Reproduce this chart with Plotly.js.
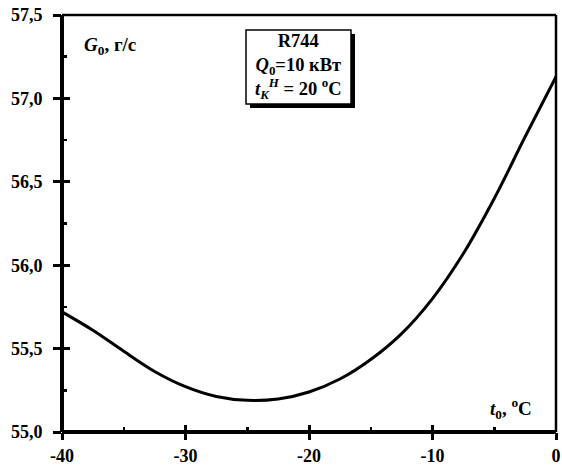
<!DOCTYPE html>
<html>
<head>
<meta charset="utf-8">
<script src="https://cdn.plot.ly/plotly-3.0.1.min.js"></script>
<style>html,body{margin:0;padding:0;background:#fff;}#chart{width:562px;height:468px;}</style>
</head>
<body>
<div id="chart"></div>
<script>
// Data
const t0 = [-40, -37.5, -35, -32.5, -30, -27.5, -25, -22.5, -20, -17.5, -15, -12.5, -10, -7.5, -5, -2.5, 0];
const G0 = [55.72, 55.61, 55.484, 55.363, 55.272, 55.213, 55.19, 55.198, 55.24, 55.318, 55.435, 55.59, 55.80, 56.07, 56.40, 56.77, 57.13];

const xTickVals = [-40, -30, -20, -10, 0];
const xTickText = ['-40', '-30', '-20', '-10', '0'];
const yTickVals = [55.0, 55.5, 56.0, 56.5, 57.0, 57.5];
const yTickText = ['55,0', '55,5', '56,0', '56,5', '57,0', '57,5'];

const FONT = 'Liberation Serif, Times New Roman, serif';
const xr = [-40, 0], yr = [55.0, 57.5];

const traces = [
  {x: t0, y: G0, type: 'scatter', mode: 'lines', line: {color: '#000', width: 3, shape: 'spline', smoothing: 1}, hoverinfo: 'skip'},
  {x: t0, y: G0, xaxis: 'x2', yaxis: 'y2', type: 'scatter', mode: 'lines', line: {color: 'rgba(0,0,0,0)', width: 0}, hoverinfo: 'skip', showlegend: false}
];

const baseAxis = {showgrid: false, zeroline: false, showline: false, fixedrange: true};

const layout = {
  width: 562, height: 468,
  margin: {l: 62, r: 6, t: 15, b: 36, pad: 0},
  paper_bgcolor: '#fff', plot_bgcolor: '#fff',
  showlegend: false,
  font: {family: FONT, color: '#000', size: 18},
  xaxis: Object.assign({}, baseAxis, {
    range: xr, tickmode: 'array', tickvals: xTickVals, ticktext: xTickText,
    ticks: 'outside', ticklen: 7, tickwidth: 3, tickcolor: '#000',
    tickfont: {family: FONT, size: 18, color: '#000', weight: 'bold'},
    ticklabelstandoff: 0,
    minor: {dtick: 5, tick0: -35, ticks: 'inside', ticklen: 5, tickwidth: 2.5, tickcolor: '#000', showgrid: false}
  }),
  yaxis: Object.assign({}, baseAxis, {
    range: yr, tickmode: 'array', tickvals: yTickVals, ticktext: yTickText,
    ticks: 'outside', ticklen: 8, tickwidth: 3, tickcolor: '#000',
    tickfont: {family: FONT, size: 18, color: '#000', weight: 'bold'},
    ticklabelstandoff: 7,
    minor: {dtick: 0.5, tick0: 55.25, ticks: 'inside', ticklen: 5, tickwidth: 2.5, tickcolor: '#000', showgrid: false}
  }),
  xaxis2: Object.assign({}, baseAxis, {
    range: xr, overlaying: 'x', anchor: 'y2', side: 'bottom', tickmode: 'array', tickvals: xTickVals,
    showticklabels: false, ticks: 'inside', ticklen: 7, tickwidth: 3, tickcolor: '#000'
  }),
  yaxis2: Object.assign({}, baseAxis, {
    range: yr, overlaying: 'y', anchor: 'x2', side: 'left', tickmode: 'array', tickvals: yTickVals,
    showticklabels: false, ticks: 'inside', ticklen: 8, tickwidth: 3, tickcolor: '#000'
  }),
  shapes: [
    // frame
    {type: 'line', xref: 'paper', yref: 'paper', x0: 0, x1: 1, y0: 1, y1: 1, line: {color: '#000', width: 2.5}, layer: 'above'},
    {type: 'line', xref: 'paper', yref: 'paper', x0: 1, x1: 1, y0: 0, y1: 1, line: {color: '#000', width: 2.5}, layer: 'above'},
    {type: 'line', xref: 'paper', yref: 'paper', x0: 0, x1: 1, y0: 0, y1: 0, line: {color: '#000', width: 4}, layer: 'above'},
    {type: 'line', xref: 'paper', yref: 'paper', x0: 0, x1: 0, y0: 0, y1: 1, line: {color: '#000', width: 4}, layer: 'above'},
    // legend box shadow and box
    {type: 'rect', xref: 'paper', yref: 'paper', x0: 0.3806, x1: 0.5931, y0: 0.7770, y1: 0.9544, fillcolor: '#000', line: {width: 0}, layer: 'above'},
    {type: 'rect', xref: 'paper', yref: 'paper', x0: 0.3725, x1: 0.5850, y0: 0.7866, y1: 0.9640, fillcolor: '#fff', line: {color: '#000', width: 1.5}, layer: 'above'}
  ],
  annotations: [
    {xref: 'paper', yref: 'paper', x: 0.4787, y: 0.8753, xanchor: 'center', yanchor: 'middle', showarrow: false, align: 'center',
     font: {family: FONT, size: 18.5, color: '#000'},
     text: '<b>R744</b><br><b><i>Q</i><sub>0</sub>=10 кВт</b><br><b><i>t<sub>K</sub></i><sup><i>H</i></sup> = 20 <sup>o</sup>C</b>'},
    {xref: 'paper', yref: 'paper', x: 0.0405, y: 0.9257, xanchor: 'left', yanchor: 'middle', showarrow: false,
     font: {family: FONT, size: 19, color: '#000'},
     text: '<b><i>G</i><sub>0</sub>, г/с</b>'},
    {xref: 'paper', yref: 'paper', x: 0.9555, y: 0.0552, xanchor: 'right', yanchor: 'middle', showarrow: false,
     font: {family: FONT, size: 19, color: '#000'},
     text: '<b><i>t</i><sub>0</sub>, <sup>o</sup>C</b>'}
  ]
};

Plotly.newPlot('chart', traces, layout, {staticPlot: true, displayModeBar: false});
</script>
</body>
</html>
